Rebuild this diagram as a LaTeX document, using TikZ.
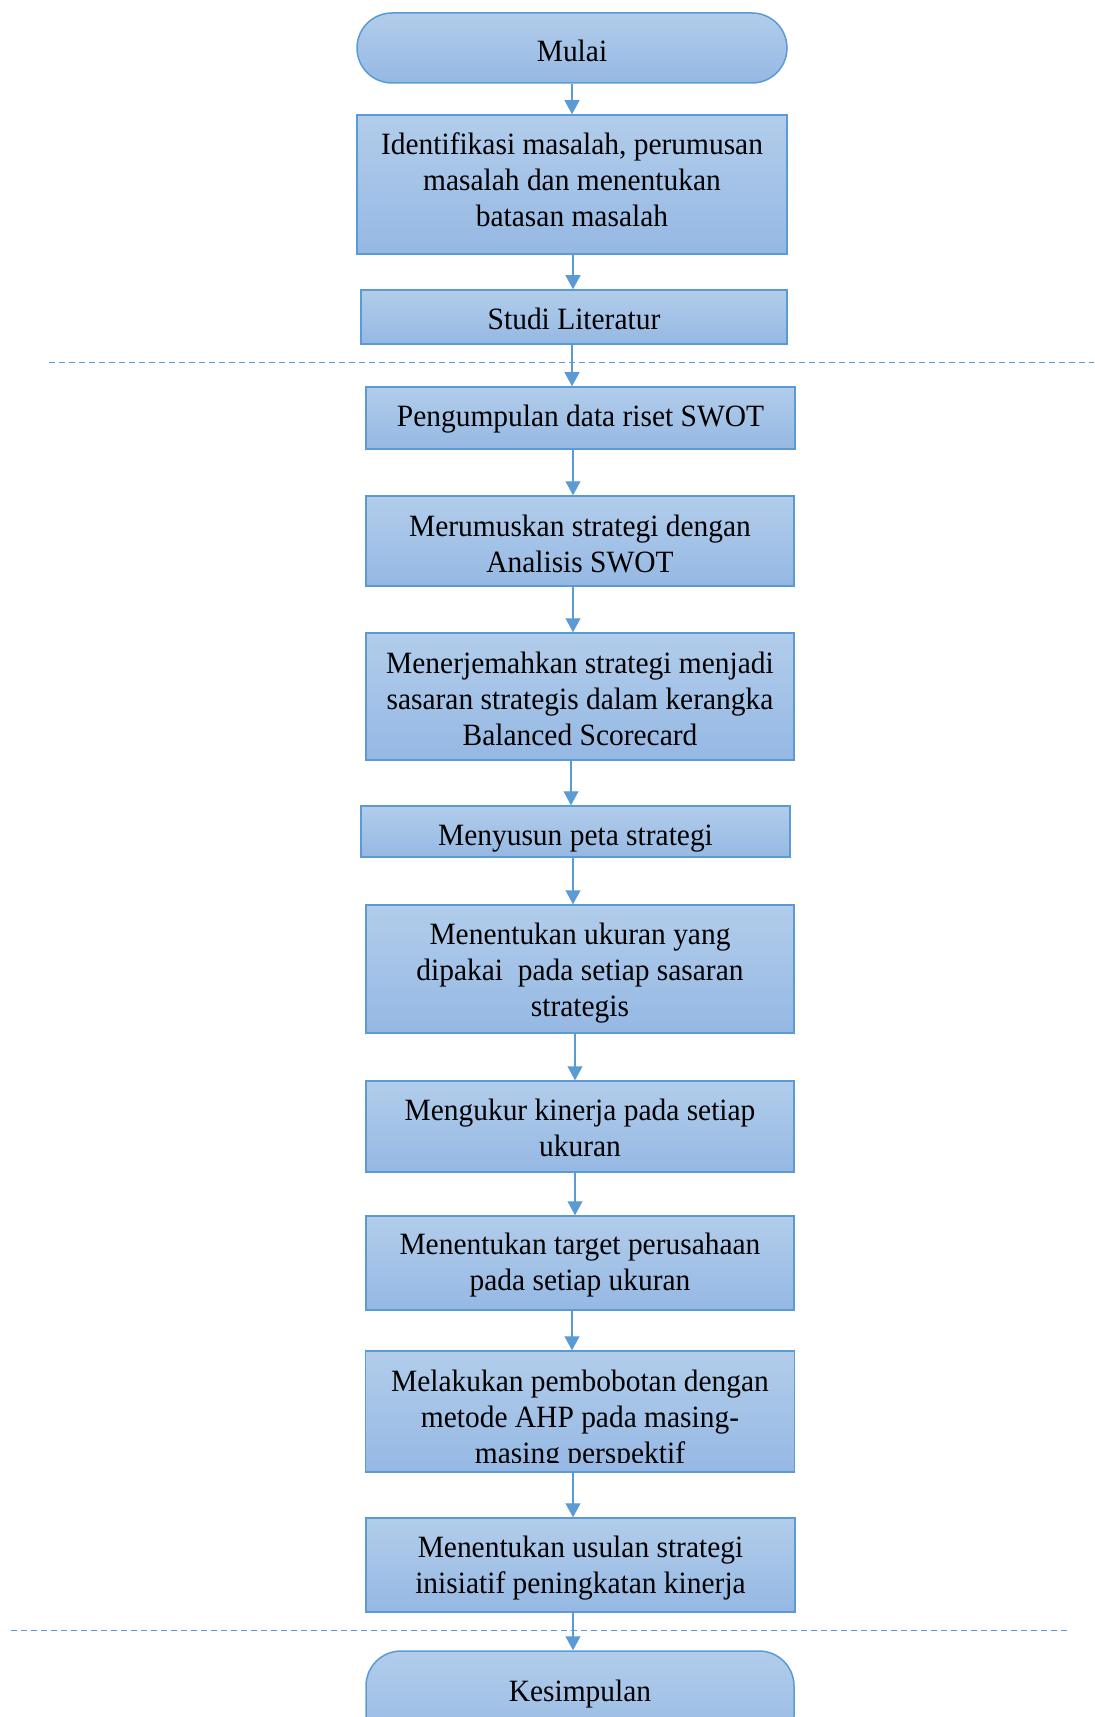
\documentclass[tikz,border=0pt]{standalone}
\usepackage{fontspec}
\setmainfont[FakeStretch=0.95]{Liberation Serif}
\usetikzlibrary{arrows.meta}
\definecolor{bord}{HTML}{5B9BD5}
\definecolor{ftop}{HTML}{B2CDEB}
\definecolor{fbot}{HTML}{95B8E3}
\tikzset{
  stepbox/.style={draw=bord, line width=0.75pt, top color=ftop, bottom color=fbot, inner sep=0pt},
  termbox/.style={stepbox, rounded corners=17.5pt},
  txt/.style={align=center, inner sep=0pt, font=\fontsize{15.5}{18}\selectfont, text=black},
  flow/.style={draw=bord, line width=0.6pt, -{Triangle[width=7.5pt,length=7pt]}},
  sep/.style={draw=bord, line width=0.5pt, dash pattern=on 3pt off 2pt}
}
\begin{document}
\begin{tikzpicture}[x=0.5pt,y=-0.5pt]
\useasboundingbox (0,0) rectangle (1094,1717);
\clip (0,0) rectangle (1094,1717);
\node[termbox, minimum width=215pt, minimum height=35pt] (mulai) at (572,48) {};
\node[stepbox, minimum width=215pt, minimum height=69.5pt] (ident) at (572,184.5) {};
\node[stepbox, minimum width=213pt, minimum height=27pt] (studi) at (574,317) {};
\node[stepbox, minimum width=214.5pt, minimum height=31pt] (kumpul) at (580.5,418) {};
\node[stepbox, minimum width=214pt, minimum height=45pt] (rumus) at (580,541) {};
\node[stepbox, minimum width=214pt, minimum height=63.5pt] (jemah) at (580,696.5) {};
\node[stepbox, minimum width=214.5pt, minimum height=25.5pt] (susun) at (575.5,831.5) {};
\node[stepbox, minimum width=214pt, minimum height=64pt] (ukuran) at (580,969) {};
\node[stepbox, minimum width=214pt, minimum height=45.5pt] (ukur) at (580,1126.5) {};
\node[stepbox, minimum width=214pt, minimum height=47pt] (target) at (580,1263) {};
\node[stepbox, minimum width=214.5pt, minimum height=60.5pt] (bobot) at (580,1411.5) {};
\node[stepbox, minimum width=214.5pt, minimum height=47pt] (usul) at (580.5,1565) {};
\node[termbox, minimum width=214pt, minimum height=50pt] (simpul) at (580,1701) {};
% texts
\node[txt] (mulaiT) at ([yshift=-1.6pt]mulai.center) {Mulai};
\node[txt] (identT) at ([yshift=2.2pt]ident.center) {Identifikasi masalah, perumusan\\masalah dan menentukan\\batasan masalah};
\node[txt] (studiT) at ([yshift=-1.1pt]studi.center) {Studi Literatur};
\node[txt] (kumpulT) at ([yshift=-0.5pt]kumpul.center) {Pengumpulan data riset SWOT};
\node[txt] (rumusT) at ([yshift=-1.6pt]rumus.center) {Merumuskan strategi dengan\\Analisis SWOT};
\node[txt] (jemahT) at ([yshift=-1.1pt]jemah.center) {Menerjemahkan strategi menjadi\\sasaran strategis dalam kerangka\\Balanced Scorecard};
\node[txt] (susunT) at ([yshift=-3.3pt]susun.center) {Menyusun peta strategi};
\node[txt] (ukuranT) at ([yshift=-1.9pt]ukuran.center) {Menentukan ukuran yang\\dipakai\ \ pada setiap sasaran\\strategis};
\node[txt] (ukurT) at ([yshift=-0.5pt]ukur.center) {Mengukur kinerja pada setiap\\ukuran};
\node[txt] (targetT) at ([yshift=-1.1pt]target.center) {Menentukan target perusahaan\\pada setiap ukuran};
\begin{scope}
\clip (360,1352) rectangle (800,1462);
\node[txt] (bobotT) at ([yshift=-4.2pt]bobot.center) {Melakukan pembobotan dengan\\metode AHP pada masing-\\masing perspektif};
\end{scope}
\node[txt] (usulT) at ([yshift=-1.6pt]usul.center) {Menentukan usulan strategi\\inisiatif peningkatan kinerja};
\node[txt] (simpulT) at ([yshift=3.5pt]simpul.center) {Kesimpulan};
% separators
\draw[sep] (49,363) -- (1094,363);
\draw[sep] (11,1630) -- (1068,1630);
% connectors
\draw[flow] (mulai.south -| 572,0) -- (ident.north -| 572,0);
\draw[flow] (ident.south -| 573,0) -- (studi.north -| 573,0);
\draw[flow] (studi.south -| 572,0) -- (kumpul.north -| 572,0);
\draw[flow] (kumpul.south -| 573,0) -- (rumus.north -| 573,0);
\draw[flow] (rumus.south -| 573,0) -- (jemah.north -| 573,0);
\draw[flow] (jemah.south -| 571,0) -- (susun.north -| 571,0);
\draw[flow] (susun.south -| 573,0) -- (ukuran.north -| 573,0);
\draw[flow] (ukuran.south -| 575,0) -- (ukur.north -| 575,0);
\draw[flow] (ukur.south -| 575,0) -- (target.north -| 575,0);
\draw[flow] (target.south -| 572,0) -- (bobot.north -| 572,0);
\draw[flow] (bobot.south -| 573,0) -- (usul.north -| 573,0);
\draw[flow] (usul.south -| 573,0) -- (simpul.north -| 573,0);
\end{tikzpicture}
\end{document}
